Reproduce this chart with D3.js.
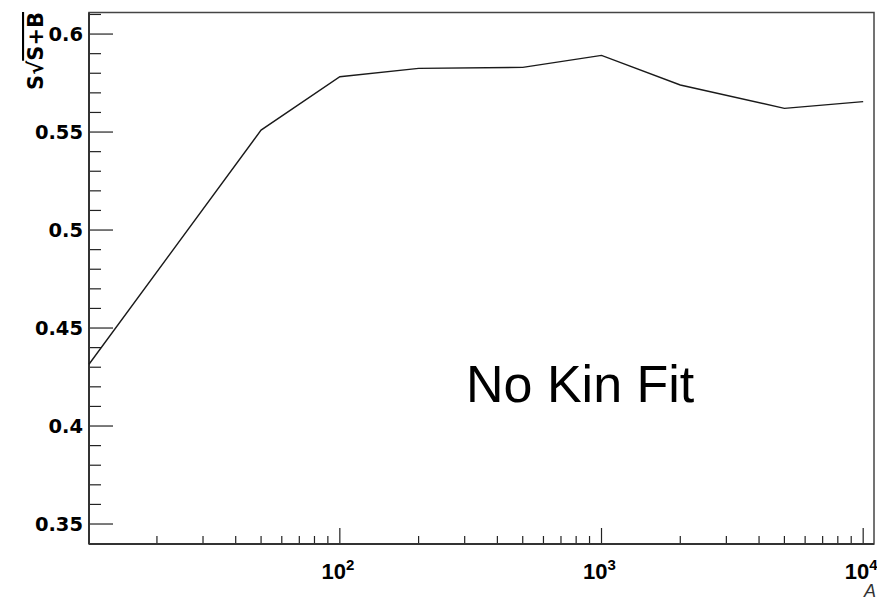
<!DOCTYPE html>
<html>
<head>
<meta charset="utf-8">
<script src="https://cdn.jsdelivr.net/npm/d3@7"></script>
<style>
  html, body { margin: 0; padding: 0; background: #fff; }
  svg { display: block; }
</style>
</head>
<body>
<svg id="chart" width="877" height="598"></svg>
<script>
// ---- data ----
const cutA = [11, 50, 100, 200, 500, 1000, 2000, 5000, 10000];
const significance = [0.4315, 0.551, 0.5782, 0.5825, 0.583, 0.5891, 0.574, 0.5621, 0.5655];
const xMajorTicks = [100, 1000, 10000];
const xMajorExponents = ["2", "3", "4"];
const yMajorTicks = [0.35, 0.4, 0.45, 0.5, 0.55, 0.6];
const yTickLabels = ["0.35", "0.4", "0.45", "0.5", "0.55", "0.6"];
const annotation = "No Kin Fit";
const xTitle = "A";

const W = 877, H = 598;
const L = 89, R = 874, T = 12.5, B = 544;

const svg = d3.select("#chart");

const x = d3.scaleLog().domain([11, 10999]).range([L, R]);
const y = d3.scaleLinear().domain([0.3398, 0.611]).range([B, T]);

// frame
svg.append("rect")
  .attr("x", L).attr("y", T).attr("width", R - L).attr("height", B - T)
  .attr("fill", "none").attr("stroke", "#444").attr("stroke-width", 1.5);

// y ticks (inside, pointing right)
const yMinor = d3.range(34, 62).map(d => d / 100).filter(v => v >= y.domain()[0] && v <= y.domain()[1]);
svg.append("g").selectAll("line").data(yMinor).join("line")
  .attr("x1", L).attr("x2", d => L + (yMajorTicks.some(m => Math.abs(m - d) < 1e-9) ? 24 : 12))
  .attr("y1", d => y(d)).attr("y2", d => y(d))
  .attr("stroke", "#222").attr("stroke-width", 1.2);

svg.append("g").selectAll("text").data(yMajorTicks).join("text")
  .attr("x", L - 6).attr("y", d => y(d)).attr("dy", "0.36em")
  .attr("text-anchor", "end")
  .attr("font-family", "DejaVu Sans, sans-serif").attr("font-weight", "bold")
  .attr("font-size", 19.5).attr("fill", "#000")
  .text((d, i) => yTickLabels[i]);

// x ticks (inside, pointing up)
const xTicks = x.ticks();
svg.append("g").selectAll("line").data(xTicks).join("line")
  .attr("x1", d => x(d)).attr("x2", d => x(d))
  .attr("y1", B).attr("y2", d => B - (xMajorTicks.includes(d) ? 16 : 8))
  .attr("stroke", "#222").attr("stroke-width", 1.2);

const xl = svg.append("g").selectAll("text").data(xMajorTicks).join("text")
  .attr("x", d => x(d) - 2).attr("y", 579)
  .attr("text-anchor", "middle")
  .attr("font-family", "Liberation Sans, Arial, sans-serif").attr("font-weight", "bold")
  .attr("font-size", 22).attr("fill", "#000");
xl.append("tspan").text("10");
xl.append("tspan").attr("dy", -9).attr("font-size", 15).text((d, i) => xMajorExponents[i]);

// axis lines (thicker left/bottom)
svg.append("line").attr("x1", L).attr("x2", L).attr("y1", T).attr("y2", B)
  .attr("stroke", "#333").attr("stroke-width", 2);
svg.append("line").attr("x1", L).attr("x2", R).attr("y1", B).attr("y2", B)
  .attr("stroke", "#333").attr("stroke-width", 2);

// data line
const line = d3.line().x(d => x(d[0])).y(d => y(d[1]));
svg.append("path")
  .datum(cutA.map((a, i) => [a, significance[i]]))
  .attr("d", line)
  .attr("fill", "none").attr("stroke", "#1a1a1a").attr("stroke-width", 1.4);

// y title: S/sqrt(S+B), rotated
const yt = svg.append("text")
  .attr("transform", `translate(43, 12) rotate(-90)`)
  .attr("text-anchor", "end")
  .attr("font-family", "DejaVu Sans, sans-serif").attr("font-weight", "bold")
  .attr("font-size", 21).attr("fill", "#000");
yt.append("tspan").text("S\u221A");
yt.append("tspan").attr("text-decoration", "overline").text("S+B");

// annotation
svg.append("text")
  .attr("x", 466).attr("y", 402)
  .attr("font-family", "Liberation Sans, Arial, sans-serif")
  .attr("font-size", 52).attr("fill", "#000")
  .text(annotation);

// x title
svg.append("text")
  .attr("x", 864).attr("y", 597)
  .attr("font-family", "Liberation Sans, Arial, sans-serif")
  .attr("font-style", "italic")
  .attr("font-size", 18).attr("fill", "#333")
  .text(xTitle);
</script>
</body>
</html>
